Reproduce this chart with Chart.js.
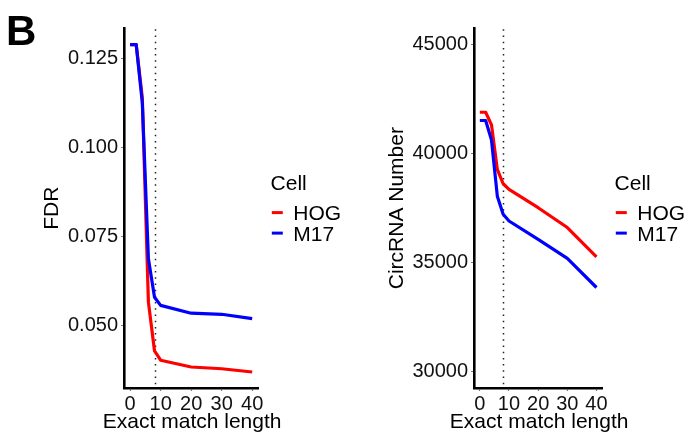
<!DOCTYPE html>
<html>
<head>
<meta charset="utf-8">
<script src="https://cdn.jsdelivr.net/npm/chart.js@4/dist/chart.umd.min.js"></script>
<style>
  html, body { margin: 0; padding: 0; background: #fff; }
  body { width: 688px; height: 433px; position: relative; overflow: hidden; }
  canvas { position: absolute; top: 0; }
  #c1 { left: 0; }
  #c2 { left: 344px; }
</style>
</head>
<body>
<canvas id="c1" width="344" height="433"></canvas>
<canvas id="c2" width="344" height="433"></canvas>
<script>
// ---- data ----
const EXACT_MATCH = [0, 2, 4, 6, 8, 10, 20, 30, 40];
const CELLS = ['HOG', 'M17'];
const FDR_HOG = [0.1288, 0.1288, 0.1139, 0.0565, 0.0428, 0.0402, 0.0383, 0.0378, 0.0369];
const FDR_M17 = [0.1288, 0.1288, 0.1125, 0.0687, 0.0579, 0.0556, 0.0534, 0.0531, 0.0519];
const CIRC_HOG = [41900, 41900, 41320, 39280, 38620, 38360, 37520, 36610, 35260];
const CIRC_M17 = [41520, 41520, 40620, 38050, 37220, 36910, 36070, 35200, 33860];
const X_TICKS = [0, 10, 20, 30, 40];
const FDR_TICKS = [0.050, 0.075, 0.100, 0.125];
const CIRC_TICKS = [30000, 35000, 40000, 45000];
const CUTOFF = 8;
const LEGEND_TITLE = 'Cell';
const PANEL_LABEL = 'B';
const X_TITLE = 'Exact match length';

// ---- styling ----
const FONT = '"Liberation Sans", Arial, Helvetica, sans-serif';
Chart.defaults.font.family = FONT;
Chart.defaults.color = '#000';
const COLORS = ['#ff0000', '#0000ff'];

function pts(xs, ys) { return xs.map((x, i) => ({ x: x, y: ys[i] })); }

const vlinePlugin = {
  id: 'vline',
  beforeDatasetsDraw(chart) {
    const xs = chart.scales.x, ca = chart.chartArea, ctx = chart.ctx;
    const px = Math.round(xs.getPixelForValue(CUTOFF)) + 0.5;
    ctx.save();
    ctx.strokeStyle = '#222';
    ctx.lineWidth = 1.5;
    ctx.setLineDash([1.5, 4.7]);
    ctx.beginPath();
    ctx.moveTo(px, ca.top + 1);
    ctx.lineTo(px, ca.bottom - 3);
    ctx.stroke();
    ctx.restore();
  }
};

const textPlugin = {
  id: 'extraText',
  afterDraw(chart) {
    const ctx = chart.ctx, ca = chart.chartArea, r = ca.right;
    ctx.save();
    ctx.fillStyle = '#000';
    ctx.textBaseline = 'alphabetic';
    // x-axis title
    ctx.font = '21px ' + FONT;
    ctx.textAlign = 'center';
    ctx.fillText(X_TITLE, (ca.left + ca.right) / 2 + 1, 428);
    // legend
    ctx.textAlign = 'left';
    ctx.fillText(LEGEND_TITLE, r + 12.3, 190);
    chart.data.datasets.forEach((ds, i) => {
      const base = 220 + 20.5 * i;
      ctx.strokeStyle = ds.borderColor;
      ctx.lineWidth = 3;
      ctx.beginPath();
      ctx.moveTo(r + 13.5, base - 7.4);
      ctx.lineTo(r + 24.5, base - 7.4);
      ctx.stroke();
      ctx.fillText(ds.label, r + 35, base);
    });
    // panel label
    if (chart.canvas.id === 'c1') {
      ctx.font = 'bold 42px ' + FONT;
      ctx.fillText(PANEL_LABEL, 6, 45);
    }
    ctx.restore();
  }
};

function makeChart(id, series, yMin, yMax, yTicks, yFmt, yTitle, yAxisWidth, yTitlePad) {
  const datasets = series.map((s, i) => ({
    label: CELLS[i],
    data: pts(EXACT_MATCH, s),
    borderColor: COLORS[i],
    backgroundColor: COLORS[i],
    borderWidth: 3.2,
    pointRadius: 0,
    tension: 0,
    fill: false,
    borderJoinStyle: 'round',
    order: series.length - i
  }));
  const axisCommon = {
    grid: { display: true, drawOnChartArea: false, drawTicks: true, tickLength: 3, tickColor: '#777', tickWidth: 1.2 },
    border: { display: true, color: '#000', width: 2.6 }
  };
  return new Chart(document.getElementById(id), {
    type: 'line',
    data: { datasets },
    options: {
      responsive: false,
      animation: false,
      devicePixelRatio: 1,
      layout: { padding: { left: 0, top: 28.3, right: 85.7, bottom: 0 } },
      plugins: { legend: { display: false }, tooltip: { enabled: false } },
      scales: {
        x: Object.assign({}, axisCommon, {
          type: 'linear', min: -2, max: 42,
          afterBuildTicks: s => { s.ticks = X_TICKS.map(v => ({ value: v })); },
          afterFit: s => { s.height = 45; },
          ticks: { font: { size: 20 }, color: '#111', padding: 1, maxRotation: 0, autoSkip: false, callback: v => String(v) },
          title: { display: false }
        }),
        y: Object.assign({}, axisCommon, {
          type: 'linear', min: yMin, max: yMax,
          afterBuildTicks: s => { s.ticks = yTicks.map(v => ({ value: v })); },
          afterFit: s => { s.width = yAxisWidth; },
          ticks: { font: { size: 20 }, color: '#111', padding: 3, autoSkip: false, callback: yFmt },
          title: { display: true, text: yTitle, font: { size: 21 }, color: '#000', padding: { top: yTitlePad, bottom: 0 } }
        })
      }
    },
    plugins: [vlinePlugin, textPlugin]
  });
}

makeChart('c1', [FDR_HOG, FDR_M17], 0.0324, 0.1334, FDR_TICKS, v => Number(v).toFixed(3), 'FDR', 124, 40);
makeChart('c2', [CIRC_HOG, CIRC_M17], 29250, 45750, CIRC_TICKS, v => String(v), 'CircRNA Number', 130, 41);
</script>
</body>
</html>
